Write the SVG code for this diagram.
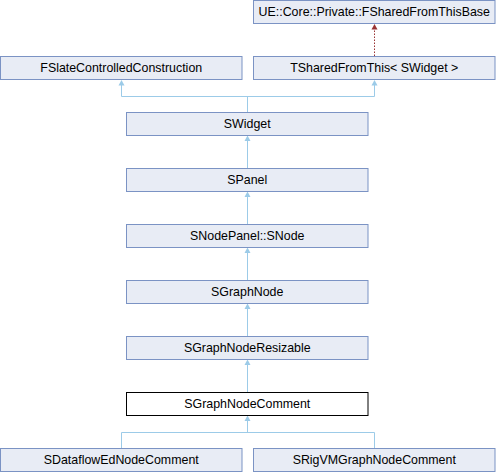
<svg xmlns="http://www.w3.org/2000/svg" width="496" height="472" viewBox="0 0 496 472">
<style>
.box{fill:#e8ecf5;stroke:#7b93c4;stroke-width:1}
.cur{fill:#ffffff;stroke:#000000;stroke-width:1}
text{font-family:"Liberation Sans",Arial,sans-serif;font-size:12.4px;fill:#000000;text-anchor:middle}
.edge{fill:none;stroke:#9ccbe8;stroke-width:1}
.priv{fill:none;stroke:#993333;stroke-width:1;stroke-dasharray:1.5,1.5}
.hb{fill:#9ccbe8}
.hr{fill:#993333}
</style>
<g id="connectors">
<path class="priv" d="M374.5,56 L374.5,29.5"/>
<path class="hr" d="M371.5,29.5 L374.5,24 L377.5,29.5 Z"/>
<path class="edge" d="M121.5,85 L121.5,96.5 L374.5,96.5 L374.5,85 M247.5,96.5 L247.5,112"/>
<path class="hb" d="M118.5,85.5 L121.5,80 L124.5,85.5 Z"/>
<path class="hb" d="M371.5,85.5 L374.5,80 L377.5,85.5 Z"/>
<path class="edge" d="M247.5,141 L247.5,168 M247.5,197 L247.5,224 M247.5,253 L247.5,280 M247.5,309 L247.5,336 M247.5,365 L247.5,392"/>
<path class="hb" d="M244.5,141 L247.5,135.5 L250.5,141 Z M244.5,197 L247.5,191.5 L250.5,197 Z M244.5,253 L247.5,247.5 L250.5,253 Z M244.5,309 L247.5,303.5 L250.5,309 Z M244.5,365 L247.5,359.5 L250.5,365 Z M244.5,421 L247.5,415.5 L250.5,421 Z"/>
<path class="edge" d="M247.5,421 L247.5,432.5 M121.5,448 L121.5,432.5 L374.5,432.5 L374.5,448"/>
</g>
<g id="FSharedFromThisBase"><rect class="box" x="253.5" y="0.5" width="241.5" height="23"/><text x="374.25" y="16">UE::Core::Private::FSharedFromThisBase</text></g>
<g id="FSlateControlledConstruction"><rect class="box" x="0.5" y="56.5" width="241.5" height="23"/><text x="121.25" y="72">FSlateControlledConstruction</text></g>
<g id="TSharedFromThis"><rect class="box" x="253.5" y="56.5" width="241.5" height="23"/><text x="374.25" y="72" xml:space="preserve">TSharedFromThis&lt; SWidget &gt;</text></g>
<g id="SWidget"><rect class="box" x="126.5" y="112.5" width="241.5" height="23"/><text x="247.25" y="128">SWidget</text></g>
<g id="SPanel"><rect class="box" x="126.5" y="168.5" width="241.5" height="23"/><text x="247.25" y="184">SPanel</text></g>
<g id="SNode"><rect class="box" x="126.5" y="224.5" width="241.5" height="23"/><text x="247.25" y="240">SNodePanel::SNode</text></g>
<g id="SGraphNode"><rect class="box" x="126.5" y="280.5" width="241.5" height="23"/><text x="247.25" y="296">SGraphNode</text></g>
<g id="SGraphNodeResizable"><rect class="box" x="126.5" y="336.5" width="241.5" height="23"/><text x="247.25" y="352">SGraphNodeResizable</text></g>
<g id="SGraphNodeComment"><rect class="cur" x="126.5" y="392.5" width="241.5" height="23"/><text x="247.25" y="408">SGraphNodeComment</text></g>
<g id="SDataflowEdNodeComment"><rect class="box" x="0.5" y="448.5" width="241.5" height="23"/><text x="121.25" y="464">SDataflowEdNodeComment</text></g>
<g id="SRigVMGraphNodeComment"><rect class="box" x="253.5" y="448.5" width="241.5" height="23"/><text x="374.25" y="464">SRigVMGraphNodeComment</text></g>
</svg>
